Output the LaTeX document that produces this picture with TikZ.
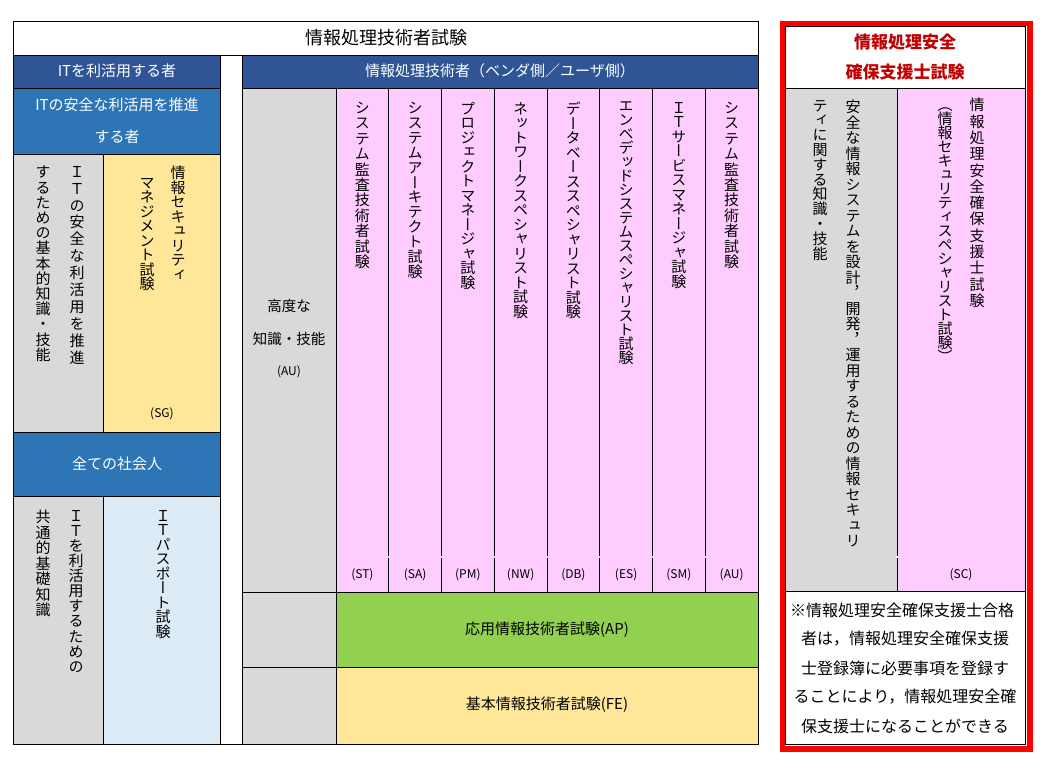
\documentclass[tikz,border=0pt]{standalone}
\usepackage{fontspec}
\setmainfont{Noto Sans CJK JP}
\newfontfamily\vjp[RawFeature=+vert]{Noto Sans CJK JP}
\usetikzlibrary{positioning}

\definecolor{navy}{HTML}{2F5597}
\definecolor{midblue}{HTML}{2E75B6}
\definecolor{cellgray}{HTML}{D9D9D9}
\definecolor{cellyellow}{HTML}{FFE699}
\definecolor{cellpink}{HTML}{FFCCFF}
\definecolor{cellblue}{HTML}{DDEBF7}
\definecolor{cellgreen}{HTML}{92D050}
\definecolor{darkred}{HTML}{C00000}

% vertical text: one glyph per line, pitch as optional argument
\makeatletter
\newcommand\vt[2][15pt]{\vbox{\vjp\baselineskip=#1\relax\lineskiplimit=-\maxdimen\lineskip=0pt\relax\vt@iter#2\@nil}}
\def\vt@iter#1{\ifx\@nil#1\else\hbox to 1em{\hss#1\hss}\expandafter\vt@iter\fi}
\makeatother

\tikzset{
  cell/.style={draw=black, line width=0.9pt},
  title/.style={inner sep=0, font=\fontsize{18}{18}\selectfont},
  htext/.style={inner sep=0, font=\fontsize{15}{15}\selectfont},
  headtext/.style={htext, text=white},
  vcol/.style={anchor=north, inner sep=0, font=\fontsize{15}{15}\selectfont},
  tag/.style={inner sep=0, font=\fontsize{12}{12}\selectfont},
  redhead/.style={inner sep=0, text=darkred, font=\bfseries\fontsize{17}{17}\selectfont},
  note/.style={inner sep=0, font=\fontsize{16}{16}\selectfont}
}

\begin{document}
\begin{tikzpicture}[x=1pt, y=-1pt]
			\useasboundingbox (0,0) rectangle (1055,776);
			
			%%%%% FRAME %%%%%
			\draw[cell, fill=white] (13,21) rectangle (758,744);
			\draw[cell] (13,55) -- (758,55);
			\node[title] (title) at (386,38) {情報処理技術者試験};
			
			%%%%% USERS %%%%%
			\draw[cell, fill=navy] (13,55) rectangle (220,88);
			\node[headtext] (user) at (117,71) {ITを利活用する者};
			
			\draw[cell, fill=midblue] (13,88) rectangle (220,154);
			\node[headtext] (promoter1) at (117,105) {ITの安全な利活用を推進};
			\node[headtext] (promoter2) at (117,137) {する者};
			
			\draw[cell, fill=cellgray] (13,154) rectangle (103,432);
			\draw[cell, fill=cellyellow] (103,154) rectangle (220,432);
			\node[vcol] (basic1) at (77,166) {\vt[16.9pt]{ＩＴの安全な利活用を推進}};
			\node[vcol] (basic2) at (43,166) {\vt[15.2pt]{するための基本的知識・技能}};
			\node[vcol] (sg1) at (178,166) {\vt[14.5pt]{情報セキュリティ}};
			\node[vcol] (sg2) at (147,178) {\vt[14.5pt]{マネジメント試験}};
			\node[tag] (sg) at (162,414) {(SG)};
			
			\draw[cell, fill=midblue] (13,432) rectangle (220,496);
			\node[headtext] (everyone) at (117,464) {全ての社会人};
			
			\draw[cell, fill=cellgray] (13,496) rectangle (103,744);
			\draw[cell, fill=cellblue] (103,496) rectangle (220,744);
			\node[vcol] (common1) at (76,510) {\vt[15.1pt]{ＩＴを利活用するための}};
			\node[vcol] (common2) at (43,510) {\vt[15.5pt]{共通的基礎知識}};
			\node[vcol] (ip) at (163,510) {\vt[14.5pt]{ＩＴパスポート試験}};
			
			%%%%% ENGINEERS %%%%%
			\draw[cell, fill=navy] (242,55) rectangle (758,88);
			\node[headtext] (engineer) at (500,71) {情報処理技術者（ベンダ側／ユーザ側）};
			
			\draw[cell, fill=cellgray] (242,88) rectangle (336,592);
			\draw[cell, fill=cellgray] (242,592) rectangle (336,667);
			\draw[cell, fill=cellgray] (242,667) rectangle (336,744);
			\node[htext, font=\fontsize{14.5}{14.5}\selectfont] (adv1) at (289,306) {高度な};
			\node[htext, font=\fontsize{14.5}{14.5}\selectfont] (adv2) at (289,339) {知識・技能};
			\node[tag] (adv3) at (289,372) {(AU)};
			
			\draw[cell, fill=cellpink] (336,88) rectangle (758,592);
			\foreach \i in {1,...,7} {
				\draw[cell] ({336+52.75*\i},88) -- ({336+52.75*\i},556);
				\draw[cell] ({336+52.75*\i},558) -- ({336+52.75*\i},592);
			}
			\foreach \i/\txt/\code/\p in {
				0/システム監査技術者試験/ST/15.4,
				1/システムアーキテクト試験/SA/14.9,
				2/プロジェクトマネージャ試験/PM/14.5,
				3/ネットワークスペシャリスト試験/NW/14.5,
				4/データベーススペシャリスト試験/DB/14.5,
				5/エンベデッドシステムスペシャリスト試験/ES/14,
				6/ＩＴサービスマネージャ試験/SM/14.5,
				7/システム監査技術者試験/AU/15.4} {
				\node[vcol] (exam-\code) at ({362.4+52.75*\i},102) {\edef\vtcall{\noexpand\vt[\p pt]{\txt}}\vtcall};
				\node[tag] (tag-\code) at ({362.4+52.75*\i},575) {(\code)};
			}
			
			\draw[cell, fill=cellgreen] (336,592) rectangle (758,667);
			\node[htext] (ap) at (547,630) {応用情報技術者試験(AP)};
			\draw[cell, fill=cellyellow] (336,667) rectangle (758,744);
			\node[htext] (fe) at (547,705) {基本情報技術者試験(FE)};
			
			%%%%% REGISTERED SPECIALIST %%%%%
			\draw[cell, fill=white] (785,26) rectangle (1025,88);
			\node[redhead] (sc-head1) at (905,42) {情報処理安全};
			\node[redhead] (sc-head2) at (905,72) {確保支援士試験};
			
			\draw[cell, fill=cellgray] (785,88) rectangle (897,591);
			\draw[cell, fill=cellpink] (897,88) rectangle (1025,591);
			\draw[line width=1.5pt, white] (897,556) -- (897,558);
			\node[vcol] (sk1) at (853,100) {\vt[15.5pt]{安全な情報システムを設計，開発，運用するための情報セキュリ}};
			\node[vcol] (sk2) at (820,100) {\vt[14.8pt]{ティに関する知識・技能}};
			\node[vcol] (sc1) at (977,98) {\vt[16.3pt]{情報処理安全確保支援士試験}};
			\node[vcol] (sc2) at (945,108) {\vt[14pt]{（情報セキュリティスペシャリスト試験）}};
			\node[tag] (sc) at (961,575) {(SC)};
			
			\draw[cell, fill=white] (785,591) rectangle (1025,744);
			\node[note] (note1) at (902,610) {※情報処理安全確保支援士合格};
			\node[note] (note2) at (905,639) {者は，情報処理安全確保支援};
			\node[note] (note3) at (905,668) {士登録簿に必要事項を登録す};
			\node[note] (note4) at (905,697) {ることにより，情報処理安全確};
			\node[note] (note5) at (905,726) {保支援士になることができる};
			
			\draw[red, line width=5.5pt] (782.5,23.5) rectangle (1030,749);
\end{tikzpicture}
\end{document}
